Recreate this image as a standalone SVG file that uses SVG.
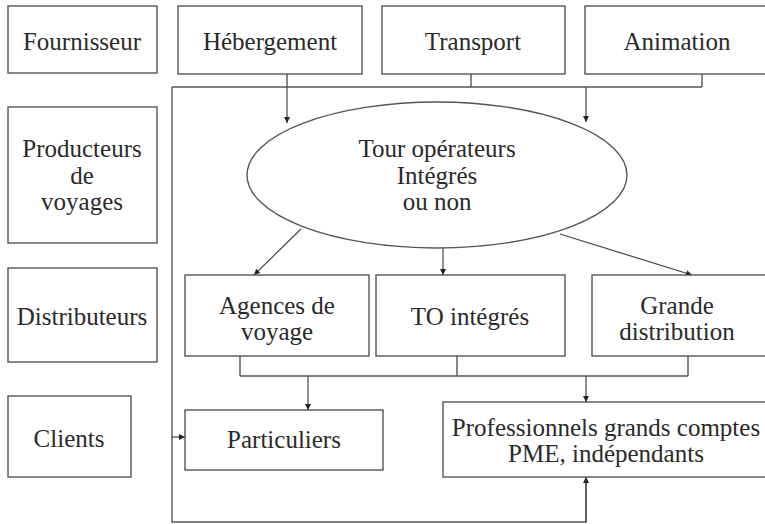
<svg xmlns="http://www.w3.org/2000/svg" width="765" height="524" viewBox="0 0 765 524">
<defs>
<marker id="ah" viewBox="0 0 10 10" refX="10" refY="5" markerWidth="6" markerHeight="6" markerUnits="userSpaceOnUse" orient="auto">
<path d="M0,0 L10,5 L0,10 z" fill="#222"/>
</marker>
<style>
.b{fill:#fff;stroke:#555;stroke-width:1.4}
.t{font-family:"Liberation Serif","Times New Roman",serif;font-size:25px;fill:#2a2a2a;text-anchor:middle}
.c{fill:none;stroke:#555;stroke-width:1.4}
.a{fill:none;stroke:#444;stroke-width:1.2;marker-end:url(#ah)}
</style>
</defs>
<rect width="765" height="524" fill="#fff"/>
<g id="connectors">
<path class="c" d="M287,74 V87 M471,74 V87 M702,74 V87 M172,87 H702 M172,87 V522 H586 V479"/>
<path class="a" d="M287,87 V123"/>
<path class="a" d="M586,87 V122"/>
<path class="a" d="M301,229 L254,275"/>
<path class="a" d="M443,248 V275"/>
<path class="a" d="M560,234 L692,275"/>
<path class="c" d="M240,356 V376 M457,356 V376 M688,356 V376 M240,376 H688"/>
<path class="a" d="M308,376 V410"/>
<path class="a" d="M586,376 V402"/>
<path class="a" d="M172,437 H185"/>
<path class="a" d="M586,522 V477"/>
</g>
<g id="fournisseur"><rect class="b" x="8" y="6" width="149" height="67"/><text class="t" x="82" y="50">Fournisseur</text></g>
<g id="hebergement"><rect class="b" x="178" y="6" width="184" height="68"/><text class="t" x="270" y="50">Hébergement</text></g>
<g id="transport"><rect class="b" x="382" y="6" width="183" height="68"/><text class="t" x="473" y="50">Transport</text></g>
<g id="animation"><rect class="b" x="585" y="6" width="182" height="68"/><text class="t" x="677" y="50">Animation</text></g>
<g id="producteurs"><rect class="b" x="8" y="107" width="149" height="136"/><text class="t" x="82" y="157">Producteurs</text><text class="t" x="82" y="184">de</text><text class="t" x="82" y="210">voyages</text></g>
<g id="tour-operateurs"><ellipse class="b" cx="437" cy="175" rx="190" ry="73"/><text class="t" x="437" y="157">Tour opérateurs</text><text class="t" x="437" y="184">Intégrés</text><text class="t" x="437" y="210">ou non</text></g>
<g id="distributeurs"><rect class="b" x="8" y="268" width="149" height="94"/><text class="t" x="82" y="325">Distributeurs</text></g>
<g id="agences"><rect class="b" x="185" y="275" width="184" height="81"/><text class="t" x="277" y="314">Agences de</text><text class="t" x="277" y="340">voyage</text></g>
<g id="to-integres"><rect class="b" x="376" y="275" width="189" height="81"/><text class="t" x="470" y="325">TO intégrés</text></g>
<g id="grande-distribution"><rect class="b" x="592" y="275" width="175" height="81"/><text class="t" x="677" y="314">Grande</text><text class="t" x="677" y="340">distribution</text></g>
<g id="clients"><rect class="b" x="8" y="396" width="123" height="81"/><text class="t" x="69" y="447">Clients</text></g>
<g id="particuliers"><rect class="b" x="185" y="410" width="198" height="60"/><text class="t" x="284" y="448">Particuliers</text></g>
<g id="professionnels"><rect class="b" x="443" y="402" width="324" height="75"/><text class="t" x="606" y="436">Professionnels grands comptes</text><text class="t" x="606" y="462">PME, indépendants</text></g>
</svg>
